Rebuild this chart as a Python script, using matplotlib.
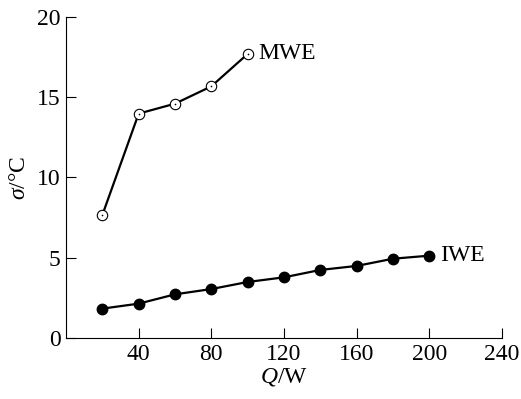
import matplotlib
matplotlib.use('Agg')
import matplotlib.pyplot as plt

plt.rcParams['font.family'] = ['Liberation Serif', 'DejaVu Serif']
plt.rcParams['mathtext.fontset'] = 'custom'
plt.rcParams['mathtext.rm'] = 'Liberation Serif'
plt.rcParams['mathtext.it'] = 'Liberation Serif:italic'

q_mwe = [20, 40, 60, 80, 100]
sigma_mwe = [7.66, 13.98, 14.6, 15.68, 17.7]

q_iwe = [20, 40, 60, 80, 100, 120, 140, 160, 180, 200]
sigma_iwe = [1.83, 2.14, 2.72, 3.05, 3.49, 3.78, 4.24, 4.49, 4.94, 5.13]

xticks = [40, 80, 120, 160, 200, 240]
yticks = [0, 5, 10, 15, 20]

fig = plt.figure(figsize=(5.21, 3.99), dpi=100)
ax = fig.add_axes([0.1267, 0.1529, 0.8369, 0.8045])

ax.plot(q_mwe, sigma_mwe, color='black', lw=1.6, marker='o', ms=7.5,
        mfc='white', mec='black', mew=0.8)
# the little dot in the middle of the open circles
ax.plot(q_mwe, sigma_mwe, ls='none', marker='o', ms=1.2, mfc='black', mec='none')
ax.plot(q_iwe, sigma_iwe, color='black', lw=1.6, marker='o', ms=7.5,
        mfc='black', mec='black')

ax.text(q_mwe[-1] + 6, sigma_mwe[-1], 'MWE', fontsize=17, va='center', ha='left')
ax.text(q_iwe[-1] + 6, sigma_iwe[-1], 'IWE', fontsize=17, va='center', ha='left')

ax.set_xlim(0, 240)
ax.set_ylim(0, 20)
ax.set_xticks(xticks)
ax.set_yticks(yticks)
ax.tick_params(direction='in', length=7, width=0.8, labelsize=17, pad=4)
ax.spines['top'].set_visible(False)
ax.spines['right'].set_visible(False)

ax.set_xlabel('$Q$/W', fontsize=17, labelpad=1)
ax.set_ylabel('$\\sigma$/°C', fontsize=17, labelpad=5)

fig.savefig('out.png', dpi=100)
